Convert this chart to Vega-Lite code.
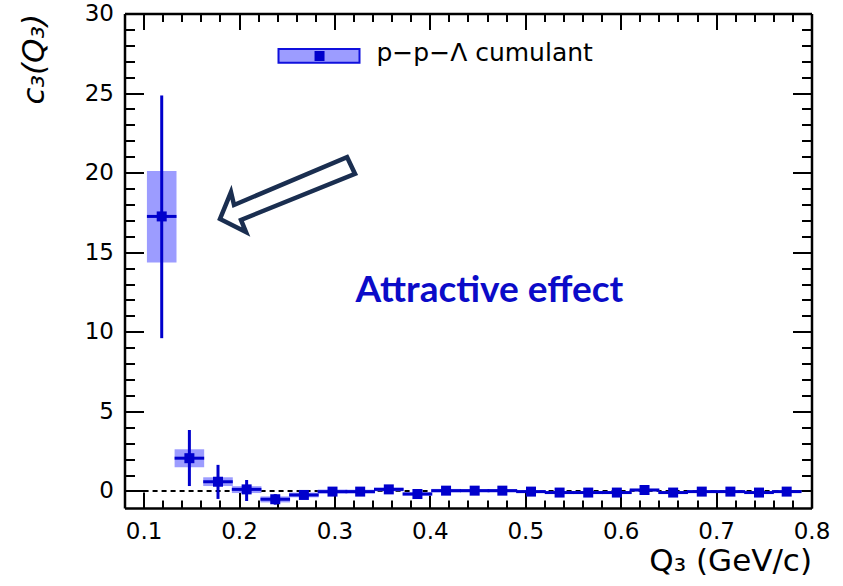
{
  "$schema": "https://vega.github.io/schema/vega-lite/v6.json",
  "width": 687,
  "height": 494.5,
  "autosize": {"type": "none"},
  "padding": {"left": 124.5, "top": 13.5, "right": 31.5, "bottom": 78},
  "background": "white",
  "config": {
    "view": {"stroke": null},
    "axis": {
      "labelFont": "DejaVu Sans",
      "titleFont": "DejaVu Sans",
      "labelFontSize": 23,
      "titleFontSize": 31,
      "titleFontWeight": "normal",
      "labelColor": "black",
      "titleColor": "black",
      "tickColor": "black",
      "domainColor": "black",
      "grid": false,
      "labelFlush": false,
      "labelOverlap": false
    }
  },
  "datasets": {
    "bins": [
      {"q": 0.119, "xlo": 0.1035, "xhi": 0.1345, "c": 17.25, "elo": 9.6, "ehi": 24.85, "slo": 14.35, "shi": 20.1},
      {"q": 0.148, "xlo": 0.1325, "xhi": 0.1635, "c": 2.06, "elo": 0.31, "ehi": 3.83, "slo": 1.49, "shi": 2.62},
      {"q": 0.178, "xlo": 0.1625, "xhi": 0.1935, "c": 0.58, "elo": -0.5, "ehi": 1.64, "slo": 0.31, "shi": 0.86},
      {"q": 0.208, "xlo": 0.1925, "xhi": 0.2235, "c": 0.1, "elo": -0.63, "ehi": 0.69, "slo": -0.13, "shi": 0.3},
      {"q": 0.238, "xlo": 0.2225, "xhi": 0.2535, "c": -0.52, "elo": -0.86, "ehi": -0.2, "slo": -0.72, "shi": -0.34},
      {"q": 0.268, "xlo": 0.2525, "xhi": 0.2835, "c": -0.25, "elo": -0.47, "ehi": -0.03, "slo": -0.4, "shi": -0.1},
      {"q": 0.298, "xlo": 0.2825, "xhi": 0.3135, "c": -0.04, "elo": -0.24, "ehi": 0.16, "slo": -0.17, "shi": 0.09},
      {"q": 0.327, "xlo": 0.3115, "xhi": 0.3425, "c": -0.04, "elo": -0.23, "ehi": 0.15, "slo": -0.16, "shi": 0.08},
      {"q": 0.357, "xlo": 0.3415, "xhi": 0.3725, "c": 0.1, "elo": -0.08, "ehi": 0.28, "slo": -0.02, "shi": 0.22},
      {"q": 0.387, "xlo": 0.3715, "xhi": 0.4025, "c": -0.19, "elo": -0.36, "ehi": -0.02, "slo": -0.3, "shi": -0.08},
      {"q": 0.417, "xlo": 0.4015, "xhi": 0.4325, "c": 0.02, "elo": -0.15, "ehi": 0.19, "slo": -0.09, "shi": 0.13},
      {"q": 0.447, "xlo": 0.4315, "xhi": 0.4625, "c": 0.02, "elo": -0.14, "ehi": 0.18, "slo": -0.08, "shi": 0.12},
      {"q": 0.476, "xlo": 0.4605, "xhi": 0.4915, "c": 0.02, "elo": -0.14, "ehi": 0.18, "slo": -0.08, "shi": 0.12},
      {"q": 0.506, "xlo": 0.4905, "xhi": 0.5215, "c": -0.04, "elo": -0.2, "ehi": 0.12, "slo": -0.13, "shi": 0.05},
      {"q": 0.536, "xlo": 0.5205, "xhi": 0.5515, "c": -0.1, "elo": -0.25, "ehi": 0.05, "slo": -0.19, "shi": -0.01},
      {"q": 0.566, "xlo": 0.5505, "xhi": 0.5815, "c": -0.1, "elo": -0.25, "ehi": 0.05, "slo": -0.19, "shi": -0.01},
      {"q": 0.596, "xlo": 0.5805, "xhi": 0.6115, "c": -0.1, "elo": -0.24, "ehi": 0.04, "slo": -0.18, "shi": -0.02},
      {"q": 0.625, "xlo": 0.6095, "xhi": 0.6405, "c": 0.06, "elo": -0.08, "ehi": 0.2, "slo": -0.02, "shi": 0.14},
      {"q": 0.655, "xlo": 0.6395, "xhi": 0.6705, "c": -0.1, "elo": -0.23, "ehi": 0.03, "slo": -0.18, "shi": -0.02},
      {"q": 0.685, "xlo": 0.6695, "xhi": 0.7005, "c": -0.04, "elo": -0.17, "ehi": 0.09, "slo": -0.11, "shi": 0.03},
      {"q": 0.715, "xlo": 0.6995, "xhi": 0.7305, "c": -0.04, "elo": -0.16, "ehi": 0.08, "slo": -0.11, "shi": 0.03},
      {"q": 0.745, "xlo": 0.7295, "xhi": 0.7605, "c": -0.1, "elo": -0.22, "ehi": 0.02, "slo": -0.17, "shi": -0.03},
      {"q": 0.774, "xlo": 0.7585, "xhi": 0.7895, "c": -0.04, "elo": -0.16, "ehi": 0.08, "slo": -0.11, "shi": 0.03}
    ],
    "zero": [{"x0": 0.1, "x1": 0.8, "y0": 0}],
    "arrow": [
      {"i": 1, "x": 0.3132, "y": 20.98},
      {"i": 2, "x": 0.3216, "y": 19.92},
      {"i": 3, "x": 0.2021, "y": 17.03},
      {"i": 4, "x": 0.2073, "y": 16.27},
      {"i": 5, "x": 0.1801, "y": 17.09},
      {"i": 6, "x": 0.1916, "y": 18.78},
      {"i": 7, "x": 0.1948, "y": 17.97}
    ],
    "note": [{"x": 0.4625, "y": 11.87, "t": "Attractive effect"}],
    "legendBox": [{"x0": 0.2414, "x1": 0.3263, "y0": 26.9, "y1": 27.77, "xm": 0.2844, "ym": 27.33}],
    "legendText": [{"x": 0.3441, "y": 27.02, "t": "p−p−Λ cumulant"}]
  },
  "layer": [
    {
      "data": {"name": "zero"},
      "mark": {"type": "rule", "color": "black", "strokeWidth": 2, "strokeDash": [5, 4]},
      "encoding": {
        "x": {"field": "x0", "type": "quantitative", "scale": {"domain": [0.08, 0.8], "nice": false, "zero": false}, "axis": null},
        "x2": {"field": "x1"},
        "y": {"field": "y0", "type": "quantitative", "scale": {"domain": [-1.07, 30], "nice": false, "zero": false}, "axis": null}
      }
    },
    {
      "data": {"name": "bins"},
      "mark": {"type": "rect", "fill": "#9c9cff", "strokeWidth": 0},
      "encoding": {
        "x": {
          "field": "xlo", "type": "quantitative",
          "scale": {"domain": [0.08, 0.8], "nice": false, "zero": false},
          "axis": {
            "orient": "bottom",
            "values": [0.1, 0.2, 0.3, 0.4, 0.5, 0.6, 0.7, 0.8],
            "format": ".1f",
            "tickSize": -16, "tickWidth": 2, "domainWidth": 2.5,
            "labelPadding": 28,
            "title": "Q₃ (GeV/c)", "titleAnchor": "end", "titlePadding": 3
          }
        },
        "x2": {"field": "xhi"},
        "y": {
          "field": "slo", "type": "quantitative",
          "scale": {"domain": [-1.07, 30], "nice": false, "zero": false},
          "axis": {
            "orient": "left",
            "values": [0, 5, 10, 15, 20, 25, 30],
            "tickSize": -19, "tickWidth": 2, "domainWidth": 2.5,
            "labelPadding": 30,
            "title": "c₃(Q₃)", "titleAnchor": "end", "titleFontStyle": "italic", "titlePadding": 34
          }
        },
        "y2": {"field": "shi"}
      }
    },
    {
      "data": {"name": "bins"},
      "mark": {"type": "rule", "color": "#0000cc", "strokeWidth": 3},
      "encoding": {
        "x": {
          "field": "xlo", "type": "quantitative",
          "scale": {"domain": [0.08, 0.8], "nice": false, "zero": false},
          "axis": {
            "orient": "bottom",
            "values": [0.12, 0.14, 0.16, 0.18, 0.22, 0.24, 0.26, 0.28, 0.32, 0.34, 0.36, 0.38, 0.42, 0.44, 0.46, 0.48, 0.52, 0.54, 0.56, 0.58, 0.62, 0.64, 0.66, 0.68, 0.72, 0.74, 0.76, 0.78],
            "tickSize": -8, "tickWidth": 2, "domain": false, "labels": false, "title": null
          }
        },
        "x2": {"field": "xhi"},
        "y": {
          "field": "c", "type": "quantitative",
          "scale": {"domain": [-1.07, 30], "nice": false, "zero": false},
          "axis": {
            "orient": "left",
            "values": [1, 2, 3, 4, 6, 7, 8, 9, 11, 12, 13, 14, 16, 17, 18, 19, 21, 22, 23, 24, 26, 27, 28, 29],
            "tickSize": -10, "tickWidth": 2, "domain": false, "labels": false, "title": null
          }
        }
      }
    },
    {
      "data": {"name": "bins"},
      "mark": {"type": "rule", "color": "#0000cc", "strokeWidth": 3},
      "encoding": {
        "x": {
          "field": "q", "type": "quantitative",
          "scale": {"domain": [0.08, 0.8], "nice": false, "zero": false},
          "axis": {
            "orient": "top",
            "values": [0.1, 0.2, 0.3, 0.4, 0.5, 0.6, 0.7, 0.8],
            "tickSize": -16, "tickWidth": 2, "domainWidth": 2.5, "labels": false, "title": null
          }
        },
        "y": {
          "field": "elo", "type": "quantitative",
          "scale": {"domain": [-1.07, 30], "nice": false, "zero": false},
          "axis": {
            "orient": "right",
            "values": [0, 5, 10, 15, 20, 25, 30],
            "tickSize": -19, "tickWidth": 2, "domainWidth": 2.5, "labels": false, "title": null
          }
        },
        "y2": {"field": "ehi"}
      }
    },
    {
      "data": {"name": "bins"},
      "mark": {"type": "point", "shape": "square", "filled": true, "size": 100, "color": "#0000cc", "opacity": 1},
      "encoding": {
        "x": {
          "field": "q", "type": "quantitative",
          "scale": {"domain": [0.08, 0.8], "nice": false, "zero": false},
          "axis": {
            "orient": "top",
            "values": [0.12, 0.14, 0.16, 0.18, 0.22, 0.24, 0.26, 0.28, 0.32, 0.34, 0.36, 0.38, 0.42, 0.44, 0.46, 0.48, 0.52, 0.54, 0.56, 0.58, 0.62, 0.64, 0.66, 0.68, 0.72, 0.74, 0.76, 0.78],
            "tickSize": -8, "tickWidth": 2, "domain": false, "labels": false, "title": null
          }
        },
        "y": {
          "field": "c", "type": "quantitative",
          "scale": {"domain": [-1.07, 30], "nice": false, "zero": false},
          "axis": {
            "orient": "right",
            "values": [1, 2, 3, 4, 6, 7, 8, 9, 11, 12, 13, 14, 16, 17, 18, 19, 21, 22, 23, 24, 26, 27, 28, 29],
            "tickSize": -10, "tickWidth": 2, "domain": false, "labels": false, "title": null
          }
        }
      }
    },
    {
      "data": {"name": "arrow"},
      "mark": {"type": "line", "color": "#1a2e50", "strokeWidth": 4.5, "strokeJoin": "miter", "interpolate": "linear-closed"},
      "encoding": {
        "x": {"field": "x", "type": "quantitative", "scale": {"domain": [0.08, 0.8], "nice": false, "zero": false}, "axis": null},
        "y": {"field": "y", "type": "quantitative", "scale": {"domain": [-1.07, 30], "nice": false, "zero": false}, "axis": null},
        "order": {"field": "i", "type": "quantitative"}
      }
    },
    {
      "data": {"name": "note"},
      "mark": {"type": "text", "font": "Lato", "fontWeight": "bold", "fontSize": 37, "color": "#0b0bc8", "align": "center", "baseline": "alphabetic"},
      "encoding": {
        "x": {"field": "x", "type": "quantitative", "scale": {"domain": [0.08, 0.8], "nice": false, "zero": false}, "axis": null},
        "y": {"field": "y", "type": "quantitative", "scale": {"domain": [-1.07, 30], "nice": false, "zero": false}, "axis": null},
        "text": {"field": "t"}
      }
    },
    {
      "data": {"name": "legendBox"},
      "mark": {"type": "rect", "fill": "#9c9cff", "stroke": "#1010dd", "strokeWidth": 2},
      "encoding": {
        "x": {"field": "x0", "type": "quantitative", "scale": {"domain": [0.08, 0.8], "nice": false, "zero": false}, "axis": null},
        "x2": {"field": "x1"},
        "y": {"field": "y0", "type": "quantitative", "scale": {"domain": [-1.07, 30], "nice": false, "zero": false}, "axis": null},
        "y2": {"field": "y1"}
      }
    },
    {
      "data": {"name": "legendBox"},
      "mark": {"type": "point", "shape": "square", "filled": true, "size": 100, "color": "#0000cc", "opacity": 1},
      "encoding": {
        "x": {"field": "xm", "type": "quantitative", "scale": {"domain": [0.08, 0.8], "nice": false, "zero": false}, "axis": null},
        "y": {"field": "ym", "type": "quantitative", "scale": {"domain": [-1.07, 30], "nice": false, "zero": false}, "axis": null}
      }
    },
    {
      "data": {"name": "legendText"},
      "mark": {"type": "text", "font": "DejaVu Sans", "fontSize": 25, "color": "black", "align": "left", "baseline": "alphabetic"},
      "encoding": {
        "x": {"field": "x", "type": "quantitative", "scale": {"domain": [0.08, 0.8], "nice": false, "zero": false}, "axis": null},
        "y": {"field": "y", "type": "quantitative", "scale": {"domain": [-1.07, 30], "nice": false, "zero": false}, "axis": null},
        "text": {"field": "t"}
      }
    }
  ],
  "resolve": {"axis": {"x": "independent", "y": "independent"}}
}
